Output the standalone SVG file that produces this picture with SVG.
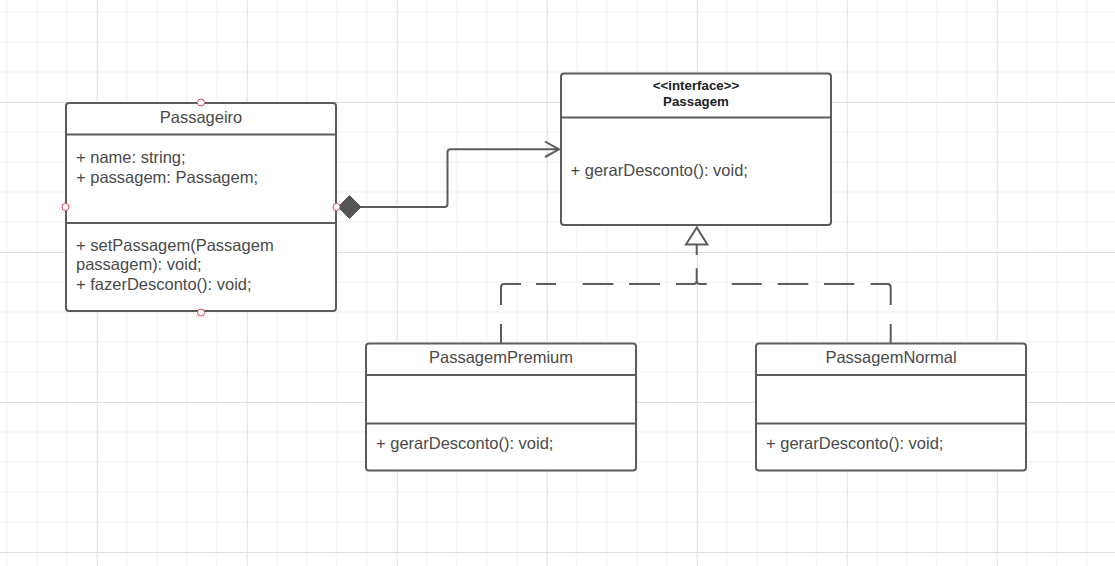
<svg xmlns="http://www.w3.org/2000/svg" width="1115" height="566" viewBox="0 0 1115 566">
<style>
.box{fill:#fff;stroke:#5c5c5c;stroke-width:2}
.div{stroke:#5c5c5c;stroke-width:2;fill:none}
.t{font-family:"Liberation Sans",Arial,sans-serif;font-size:16.5px;fill:#4a4a4a}
.c{text-anchor:middle}
.b{font-family:"Liberation Sans",Arial,sans-serif;font-weight:bold;font-size:13.3px;fill:#222;text-anchor:middle}
.port{fill:#fff;stroke:#e0455a;stroke-width:1}
.edge{fill:none;stroke:#5c5c5c;stroke-width:2}
</style>
<defs>
<pattern id="grid" patternUnits="userSpaceOnUse" x="-53.3" y="-48" width="150" height="150">
<path d="M30 0V150M60 0V150M90 0V150M120 0V150M0 30H150M0 60H150M0 90H150M0 120H150" stroke="#efefef" stroke-width="1" fill="none"/>
<path d="M0.5 0V150M0 0.5H150" stroke="#dedede" stroke-width="1" fill="none"/>
</pattern>
</defs>
<rect width="1115" height="566" fill="#fff"/>
<rect width="1115" height="566" fill="url(#grid)"/>

<g id="connectors">
<path class="edge" d="M361 207H444.5Q447.5 207 447.5 204V152.3Q447.5 149.3 450.5 149.3H559"/>
<path class="edge" d="M545 141.5L559 149.3L545 157"/>
<polygon points="338,207 349.5,195.5 361,207 349.5,218.5" fill="#555" stroke="#555" stroke-width="1"/>
<path class="edge" d="M696.7 244.5V255M696.7 268.3V281Q696.7 284 693.7 284H676M660 284H629M613.3 284H582.7M556 284H536M521 284H504Q501 284 501 287V305M501 324V343"/>
<path class="edge" d="M696.7 281Q696.7 284 699.7 284H706.7M731.7 284H761.7M777.7 284H808.3M824 284H854.3M870.7 284H887.7Q890.7 284 890.7 287V305M890.7 324V343"/>
<polygon points="696.7,227.5 686,244.5 707.4,244.5" fill="#fff" stroke="#5c5c5c" stroke-width="2" stroke-linejoin="miter"/>
</g>

<g id="Passageiro">
<rect class="box" x="66" y="103" width="270" height="208" rx="3"/>
<path class="div" d="M66 134.5H336M66 223H336"/>
<text class="t c" x="201" y="122.5">Passageiro</text>
<text class="t" x="76" y="162.5">+ name: string;</text>
<text class="t" x="76" y="182.5">+ passagem: Passagem;</text>
<text class="t" x="76" y="250.5">+ setPassagem(Passagem</text>
<text class="t" x="76" y="270">passagem): void;</text>
<text class="t" x="76" y="289.5">+ fazerDesconto(): void;</text>
<circle class="port" cx="201" cy="102.5" r="3.5"/>
<circle class="port" cx="65.5" cy="207" r="3.5"/>
<circle class="port" cx="336.5" cy="207" r="3.5"/>
<circle class="port" cx="201" cy="312.5" r="3.5"/>
</g>

<g id="Passagem">
<rect class="box" x="561" y="73.5" width="270" height="151.5" rx="3"/>
<path class="div" d="M561 117.5H831"/>
<text class="b" x="696" y="90">&lt;&lt;interface&gt;&gt;</text>
<text class="b" x="696" y="106">Passagem</text>
<text class="t" x="570.5" y="175.5">+ gerarDesconto(): void;</text>
</g>

<g id="PassagemPremium">
<rect class="box" x="366" y="343.5" width="270" height="127" rx="3"/>
<path class="div" d="M366 375H636M366 423.5H636"/>
<text class="t c" x="501" y="362.5">PassagemPremium</text>
<text class="t" x="376" y="449">+ gerarDesconto(): void;</text>
</g>

<g id="PassagemNormal">
<rect class="box" x="756" y="343.5" width="270" height="127" rx="3"/>
<path class="div" d="M756 375H1026M756 423.5H1026"/>
<text class="t c" x="891" y="362.5">PassagemNormal</text>
<text class="t" x="766" y="449">+ gerarDesconto(): void;</text>
</g>
</svg>
